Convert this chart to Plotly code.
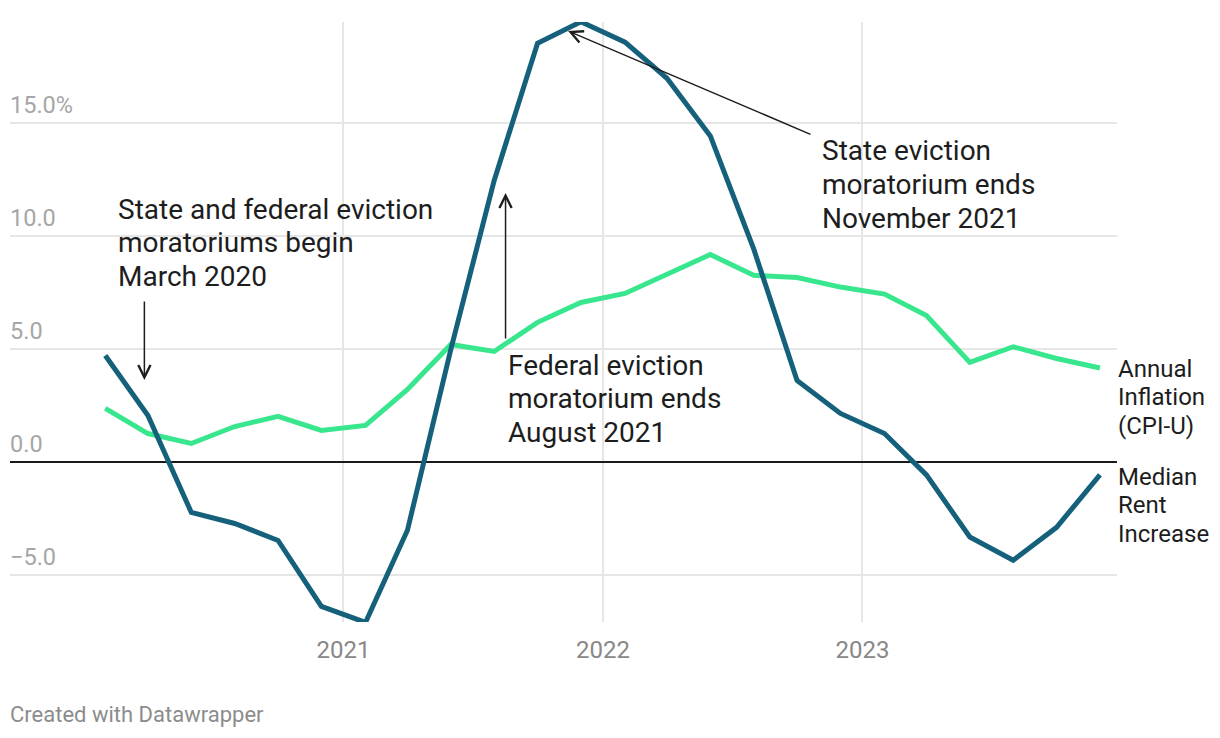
import plotly.graph_objects as go
import pandas as pd

# ---- data (every two months, Feb 2020 - Dec 2023) ----
dates = pd.date_range("2020-02-01", "2023-12-01", freq="2MS").strftime("%Y-%m-%d").tolist()
rent_increase = [4.73, 2.08, -2.21, -2.70, -3.45, -6.37, -7.08, -3.00, 5.00, 12.48, 18.55, 19.50,
                 18.60, 17.00, 14.45, 9.45, 3.63, 2.17, 1.28, -0.55, -3.30, -4.33, -2.87, -0.55]
cpi_inflation = [2.39, 1.28, 0.84, 1.59, 2.04, 1.42, 1.64, 3.23, 5.22, 4.91, 6.20, 7.08,
                 7.48, 8.32, 9.20, 8.28, 8.18, 7.76, 7.45, 6.50, 4.43, 5.12, 4.60, 4.18]
y_ticks = [-5, 0, 5, 10, 15]
y_tick_labels = ["\u22125.0", "0.0", "5.0", "10.0", "15.0%"]
x_ticks = ["2021-01-01", "2022-01-01", "2023-01-01"]
x_tick_labels = ["2021", "2022", "2023"]
series_labels = {"cpi": ["Annual", "Inflation", "(CPI-U)"], "rent": ["Median", "Rent", "Increase"]}
notes = [
    ["State and federal eviction", "moratoriums begin", "March 2020"],
    ["Federal eviction", "moratorium ends", "August 2021"],
    ["State eviction", "moratorium ends", "November 2021"],
]

# ---- layout geometry (page pixels; body has an 8px margin) ----
OFF = 8
W, H = 1204, 722
L, R, T, B = 2, 95, 14, 108
PW, PH = W - L - R, H - T - B

def px(x):
    return (x - OFF - L) / PW

def py(y):
    return (OFF + T + PH - y) / PH

DARK = "#15607A"
GREEN = "#38E68E"
FONT = "Roboto"
TXT = "#1d1d1d"

fig = go.Figure()
fig.add_trace(go.Scatter(x=dates, y=cpi_inflation, mode="lines",
                         line=dict(color=GREEN, width=5), hoverinfo="skip", showlegend=False))
fig.add_trace(go.Scatter(x=dates, y=rent_increase, mode="lines",
                         line=dict(color=DARK, width=5), hoverinfo="skip", showlegend=False))

ann = []
# y tick labels above gridlines
for v, t in zip(y_ticks, y_tick_labels):
    ann.append(dict(x=0, xref="paper", y=v, yref="y", text=t, showarrow=False,
                    xanchor="left", yanchor="bottom", yshift=2, xshift=-2,
                    font=dict(family=FONT, size=23.5, color="#a6a6a6")))

def add_lines(lines, x0, y_first, step, size):
    for i, t in enumerate(lines):
        ann.append(dict(x=px(x0), xref="paper", y=py(y_first + i * step), yref="paper",
                        text=t, showarrow=False, xanchor="left", yanchor="middle",
                        font=dict(family=FONT, size=size, color=TXT)))

# series labels on the right
add_lines(series_labels["cpi"], 1116, 368.5, 28.7, 24)
add_lines(series_labels["rent"], 1116, 476.5, 28.7, 24)

# text annotations
add_lines(notes[0], 116, 209, 33.7, 28)
add_lines(notes[1], 506, 365, 33.7, 28)
add_lines(notes[2], 820, 151, 33.7, 28)

# arrows (head at x,y; tail at ax,ay)
arrows = [
    ("2020-03-27", 3.65, "2020-03-27", 7.19),
    ("2021-08-17", 11.92, "2021-08-17", 5.42),
    ("2021-11-13", 19.09, "2022-10-22", 14.49),
]
for hx, hy, tx, ty in arrows:
    ann.append(dict(x=hx, y=hy, xref="x", yref="y", ax=tx, ay=ty, axref="x", ayref="y",
                    text="", showarrow=True, arrowhead=5, arrowsize=1.6, arrowwidth=1.5,
                    arrowcolor=TXT, standoff=0, startstandoff=0))

# footer
ann.append(dict(x=px(10), xref="paper", y=py(714), yref="paper", text="Created with Datawrapper",
                showarrow=False, xanchor="left", yanchor="middle", xshift=-2,
                font=dict(family=FONT, size=22, color="#8c8c8c")))

fig.update_layout(
    width=W, height=H,
    margin=dict(l=L, r=R, t=T, b=B),
    plot_bgcolor="white", paper_bgcolor="white",
    annotations=ann,
    xaxis=dict(type="date", range=["2019-09-20", "2023-12-25"],
               tickvals=x_ticks, ticktext=x_tick_labels,
               showgrid=True, gridcolor="#e6e6e6", gridwidth=1.5,
               zeroline=False, showline=False,
               ticks="outside", ticklen=6, tickcolor="rgba(0,0,0,0)",
               tickfont=dict(family=FONT, size=24, color="#888888"),
               fixedrange=True),
    yaxis=dict(range=[-7.06, 19.49], tickvals=y_ticks, showticklabels=False,
               showgrid=True, gridcolor="#e6e6e6", gridwidth=1.5,
               zeroline=True, zerolinecolor="#1a1a1a", zerolinewidth=2,
               showline=False, fixedrange=True),
)

fig.write_html("out.html", config={"displayModeBar": False})
